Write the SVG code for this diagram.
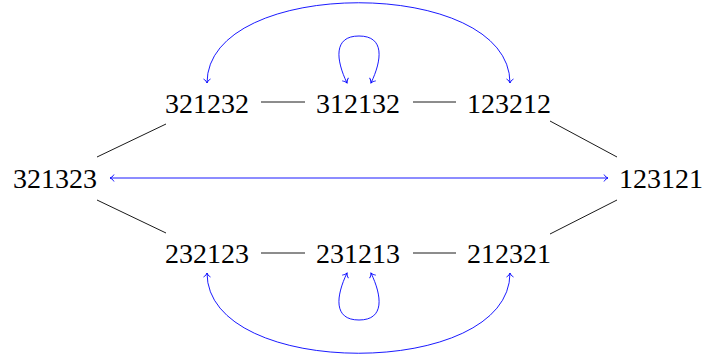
<svg xmlns="http://www.w3.org/2000/svg" width="703" height="358" viewBox="0 0 703 358">
<style>
.lbl{font-family:"Liberation Serif","DejaVu Serif",serif;font-size:28px;fill:#000;text-anchor:middle}
.e{stroke:#000;stroke-width:0.9;fill:none}
.b{stroke:#0000ff;stroke-width:0.9;fill:none;marker-start:url(#ah);marker-end:url(#ah)}
</style>
<defs>
<marker id="ah" viewBox="-6 -6 12 12" markerWidth="12" markerHeight="12" refX="0" refY="0" markerUnits="userSpaceOnUse" orient="auto-start-reverse" overflow="visible">
<path d="M-4,-3.5 C-3,-1.5 -1,-0.4 0,0 C-1,0.4 -3,1.5 -4,3.5" fill="none" stroke="#0000ff" stroke-width="0.9"/>
</marker>
</defs>
<g id="connectors">
<line class="e" x1="261" y1="102" x2="305" y2="102"/>
<line class="e" x1="413" y1="102" x2="456" y2="102"/>
<line class="e" x1="261" y1="253" x2="305" y2="253"/>
<line class="e" x1="413" y1="253" x2="456" y2="253"/>
<line class="e" x1="97" y1="157" x2="166" y2="124"/>
<line class="e" x1="97" y1="200" x2="166" y2="233"/>
<line class="e" x1="550" y1="121" x2="617" y2="157"/>
<line class="e" x1="550" y1="234" x2="617" y2="200"/>
<path class="b" d="M110,178 L608,178"/>
<path class="b" d="M207,83 C207,-24 510,-24 510,83"/>
<path class="b" d="M207,273 C207,380 510,380 510,273"/>
<path class="b" d="M347,83 C336,60 333,36 359,36 C385,36 382,60 371,83"/>
<path class="b" d="M347,273 C336,296 333,320 359,320 C385,320 382,296 371,273"/>
</g>
<g id="n321232"><text class="lbl" x="207" y="113">321232</text></g>
<g id="n312132"><text class="lbl" x="358" y="113">312132</text></g>
<g id="n123212"><text class="lbl" x="509" y="113">123212</text></g>
<g id="n321323"><text class="lbl" x="55" y="188">321323</text></g>
<g id="n123121"><text class="lbl" x="661" y="188">123121</text></g>
<g id="n232123"><text class="lbl" x="207" y="263">232123</text></g>
<g id="n231213"><text class="lbl" x="358" y="263">231213</text></g>
<g id="n212321"><text class="lbl" x="509" y="263">212321</text></g>
</svg>
